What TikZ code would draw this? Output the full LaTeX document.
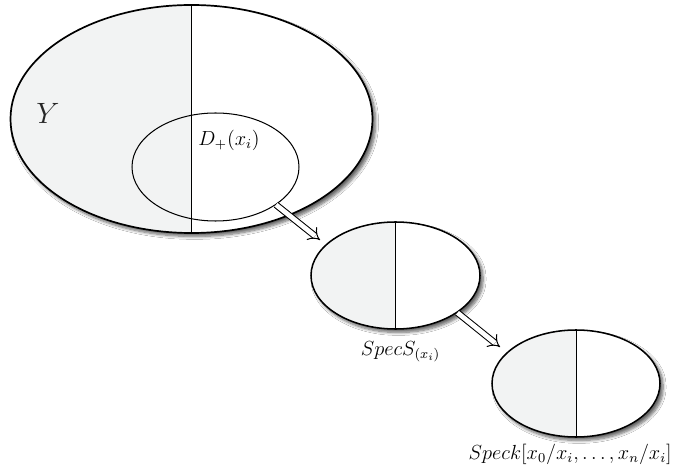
\documentclass[tikz,border=0pt]{standalone}
\usetikzlibrary{shapes.geometric,arrows.meta,shadows.blur}
\definecolor{halfgray}{RGB}{242,243,243}
\begin{document}
\begin{tikzpicture}[x=0.588pt,y=-0.588pt,
  halfell/.style={ellipse, draw, line width=0.9pt, fill=white, inner sep=0pt,
    blur shadow={shadow xshift=1.8pt, shadow yshift=-2pt, shadow blur steps=7, shadow blur extra rounding=1pt, shadow opacity=60},
    path picture={\fill[halfgray] (path picture bounding box.south west) rectangle (path picture bounding box.north);
      \draw[line width=0.6pt] (path picture bounding box.north) -- (path picture bounding box.south);}},
  lbl/.style={inner sep=0pt, font=\large},
  imp/.style={double, double distance=2.8pt, line width=0.6pt, -{Implies[scale=1.35]}}]
\fill[white] (0,0) rectangle (673,473);
\useasboundingbox (0,0) rectangle (673,473);

\node[halfell, line width=1pt, minimum width=362*0.588pt, minimum height=228*0.588pt] (Y) at (191.5,119) {};
\node[ellipse, draw, line width=0.6pt, inner sep=0pt, minimum width=167*0.588pt, minimum height=108*0.588pt] (D) at (215.5,167) {};
\node[halfell, minimum width=169*0.588pt, minimum height=107*0.588pt] (S1) at (395.5,275.5) {};
\node[halfell, minimum width=168*0.588pt, minimum height=107*0.588pt] (S2) at (576,383.5) {};

\node[font=\LARGE, inner sep=0pt, text=black!85] (Yl) at (48,113) {$Y$};
\node[lbl, anchor=west] (Dl) at (198,140) {$D_+(x_i)$};
\node[lbl] (S1l) at (400.5,352) {$SpecS_{(x_i)}$};
\node[lbl, anchor=east] (S2l) at (672,454) {$Speck[x_0/x_i,\ldots,x_n/x_i]$};

\coordinate (t1) at (320,240);
\coordinate (t2) at (500,347);
\draw[imp] (D.-32) -- (t1);
\draw[imp] (S1.-31.5) -- (t2);
\end{tikzpicture}
\end{document}
